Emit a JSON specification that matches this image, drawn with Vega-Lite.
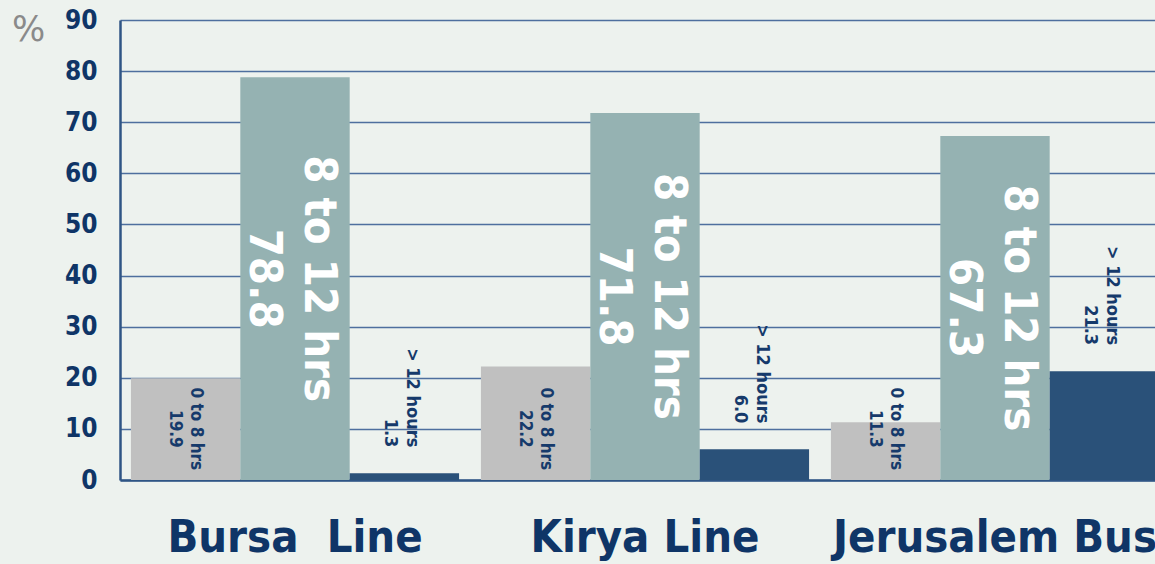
{
  "$schema": "https://vega.github.io/schema/vega-lite/v6.json",
  "autosize": {"type": "none"},
  "width": 1035,
  "height": 460,
  "padding": {"left": 120, "top": 20, "right": 0, "bottom": 84},
  "background": "#EDF2EE",
  "config": {
    "view": {"stroke": null},
    "font": "DejaVu Sans Condensed"
  },
  "data": {
    "values": [
      {"group": "Bursa\u00a0 Line", "cat": "0 to 8 hrs", "value": 19.9, "label": "0 to 8 hrs\n19.9"},
      {"group": "Bursa\u00a0 Line", "cat": "8 to 12 hrs", "value": 78.8, "label": "8 to 12 hrs\n78.8"},
      {"group": "Bursa\u00a0 Line", "cat": "> 12 hours", "value": 1.3, "label": "> 12 hours\n1.3"},
      {"group": "Kirya Line", "cat": "0 to 8 hrs", "value": 22.2, "label": "0 to 8 hrs\n22.2"},
      {"group": "Kirya Line", "cat": "8 to 12 hrs", "value": 71.8, "label": "8 to 12 hrs\n71.8"},
      {"group": "Kirya Line", "cat": "> 12 hours", "value": 6.0, "label": "> 12 hours\n6.0"},
      {"group": "Jerusalem Bus", "cat": "0 to 8 hrs", "value": 11.3, "label": "0 to 8 hrs\n11.3"},
      {"group": "Jerusalem Bus", "cat": "8 to 12 hrs", "value": 67.3, "label": "8 to 12 hrs\n67.3"},
      {"group": "Jerusalem Bus", "cat": "> 12 hours", "value": 21.3, "label": "> 12 hours\n21.3"}
    ]
  },
  "encoding": {
    "x": {
      "field": "group", "type": "nominal", "sort": null,
      "scale": {"range": [0, 1050], "paddingInner": 0, "paddingOuter": 0},
      "axis": {
        "title": null, "labelAngle": 0, "ticks": false,
        "labelFont": "DejaVu Sans Condensed", "labelFontWeight": "bold",
        "labelFontSize": 45, "labelColor": "#0F3567", "labelPadding": 35,
        "labelBaseline": "top", "labelLimit": 0,
        "domain": true, "domainColor": "#2F5585", "domainWidth": 2.5,
        "labelOverlap": false, "labelBound": false, "labelFlush": false
      }
    },
    "xOffset": {
      "field": "cat", "type": "nominal",
      "scale": {"domain": ["0 to 8 hrs", "8 to 12 hrs", "> 12 hours"], "paddingInner": 0, "paddingOuter": 0.1}
    }
  },
  "layer": [
    {
      "mark": {"type": "bar", "clip": true},
      "encoding": {
        "y": {
          "field": "value", "type": "quantitative",
          "scale": {"domain": [0, 90], "nice": false},
          "axis": {
            "values": [0, 10, 20, 30, 40, 50, 60, 70, 80, 90],
            "title": "%", "titleAngle": 0, "titleX": -92, "titleY": 9,
            "titleAlign": "center", "titleBaseline": "middle",
            "titleFont": "DejaVu Sans", "titleFontWeight": "normal",
            "titleFontSize": 35, "titleColor": "#8A8A8A",
            "ticks": false, "labelPadding": 23,
            "labelFont": "DejaVu Sans Condensed", "labelFontWeight": "bold",
            "labelFontSize": 26, "labelColor": "#0F3567",
            "grid": true, "gridColor": "#4E6F9E", "gridWidth": 1.3,
            "domain": true, "domainColor": "#2F5585", "domainWidth": 2.5
          }
        },
        "color": {
          "field": "cat", "type": "nominal",
          "scale": {"domain": ["0 to 8 hrs", "8 to 12 hrs", "> 12 hours"], "range": ["#C0C0C0", "#95B2B2", "#2A5179"]},
          "legend": null
        }
      }
    },
    {
      "transform": [{"filter": "datum.cat === '8 to 12 hrs'"}],
      "mark": {"type": "text", "angle": 90, "align": "center", "baseline": "middle", "dy": -24, "lineBreak": "\n", "lineHeight": 55, "font": "DejaVu Sans Condensed", "fontWeight": "bold", "fontSize": 45, "color": "#FFFFFF"},
      "encoding": {
        "y": {"field": "value", "type": "quantitative", "scale": {"domain": [0, 180], "nice": false}, "axis": null},
        "text": {"field": "label"}
      }
    },
    {
      "transform": [{"filter": "datum.cat === '0 to 8 hrs'"}],
      "mark": {"type": "text", "angle": 90, "align": "center", "baseline": "middle", "dy": -10, "lineBreak": "\n", "lineHeight": 21, "font": "DejaVu Sans Condensed", "fontWeight": "bold", "fontSize": 17, "color": "#163A6B"},
      "encoding": {
        "y": {"datum": 10, "type": "quantitative", "scale": {"domain": [0, 90], "nice": false}, "axis": null},
        "text": {"field": "label"}
      }
    },
    {
      "transform": [{"filter": "datum.cat === '> 12 hours'"}],
      "mark": {"type": "text", "angle": 90, "align": "right", "baseline": "middle", "dx": -26, "dy": -8, "lineBreak": "\n", "lineHeight": 22, "font": "DejaVu Sans Condensed", "fontWeight": "bold", "fontSize": 18, "color": "#163A6B"},
      "encoding": {
        "y": {"field": "value", "type": "quantitative", "scale": {"domain": [0, 90], "nice": false}, "axis": null},
        "text": {"field": "label"}
      }
    }
  ],
  "resolve": {"scale": {"y": "independent"}}
}
